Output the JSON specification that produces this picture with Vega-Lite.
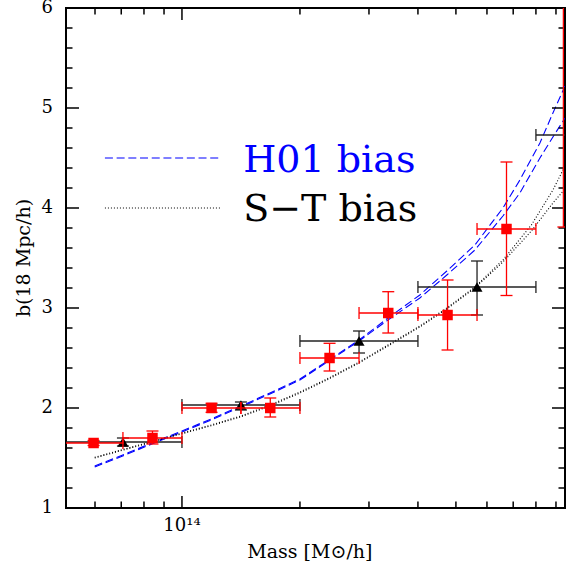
{
  "$schema": "https://vega.github.io/schema/vega-lite/v6.json",
  "width": 499,
  "height": 500,
  "autosize": {"type": "none"},
  "padding": {"left": 66, "top": 8, "right": 11, "bottom": 58},
  "background": "white",
  "config": {
    "view": {"stroke": "black", "strokeWidth": 2}
  },
  "datasets": {
    "curves": [
      {"m": 5.99e13, "b": 1.42, "s": "H01a", "k": "H01"},
      {"m": 7.06e13, "b": 1.53, "s": "H01a", "k": "H01"},
      {"m": 8.38e13, "b": 1.65, "s": "H01a", "k": "H01"},
      {"m": 1e14, "b": 1.77, "s": "H01a", "k": "H01"},
      {"m": 1.186e14, "b": 1.89, "s": "H01a", "k": "H01"},
      {"m": 1.414e14, "b": 2.02, "s": "H01a", "k": "H01"},
      {"m": 1.677e14, "b": 2.15, "s": "H01a", "k": "H01"},
      {"m": 2e14, "b": 2.29, "s": "H01a", "k": "H01"},
      {"m": 2.37e14, "b": 2.48, "s": "H01a", "k": "H01"},
      {"m": 2.83e14, "b": 2.68, "s": "H01a", "k": "H01"},
      {"m": 3.354e14, "b": 2.90, "s": "H01a", "k": "H01"},
      {"m": 4.045e14, "b": 3.13, "s": "H01a", "k": "H01"},
      {"m": 4.74e14, "b": 3.37, "s": "H01a", "k": "H01"},
      {"m": 5.59e14, "b": 3.63, "s": "H01a", "k": "H01"},
      {"m": 6.59e14, "b": 4.00, "s": "H01a", "k": "H01"},
      {"m": 7.28e14, "b": 4.28, "s": "H01a", "k": "H01"},
      {"m": 8.19e14, "b": 4.65, "s": "H01a", "k": "H01"},
      {"m": 8.84e14, "b": 4.95, "s": "H01a", "k": "H01"},
      {"m": 9.49e14, "b": 5.22, "s": "H01a", "k": "H01"},
      {"m": 5.99e13, "b": 1.41, "s": "H01b", "k": "H01"},
      {"m": 7.06e13, "b": 1.52, "s": "H01b", "k": "H01"},
      {"m": 8.38e13, "b": 1.64, "s": "H01b", "k": "H01"},
      {"m": 1e14, "b": 1.76, "s": "H01b", "k": "H01"},
      {"m": 1.186e14, "b": 1.88, "s": "H01b", "k": "H01"},
      {"m": 1.414e14, "b": 2.01, "s": "H01b", "k": "H01"},
      {"m": 1.677e14, "b": 2.14, "s": "H01b", "k": "H01"},
      {"m": 2e14, "b": 2.28, "s": "H01b", "k": "H01"},
      {"m": 2.37e14, "b": 2.47, "s": "H01b", "k": "H01"},
      {"m": 2.83e14, "b": 2.67, "s": "H01b", "k": "H01"},
      {"m": 3.354e14, "b": 2.88, "s": "H01b", "k": "H01"},
      {"m": 4.045e14, "b": 3.10, "s": "H01b", "k": "H01"},
      {"m": 4.74e14, "b": 3.33, "s": "H01b", "k": "H01"},
      {"m": 5.59e14, "b": 3.58, "s": "H01b", "k": "H01"},
      {"m": 6.59e14, "b": 3.92, "s": "H01b", "k": "H01"},
      {"m": 7.28e14, "b": 4.15, "s": "H01b", "k": "H01"},
      {"m": 8.19e14, "b": 4.50, "s": "H01b", "k": "H01"},
      {"m": 8.84e14, "b": 4.71, "s": "H01b", "k": "H01"},
      {"m": 9.49e14, "b": 4.90, "s": "H01b", "k": "H01"},
      {"m": 5.99e13, "b": 1.507, "s": "STa", "k": "ST"},
      {"m": 7.06e13, "b": 1.585, "s": "STa", "k": "ST"},
      {"m": 8.38e13, "b": 1.665, "s": "STa", "k": "ST"},
      {"m": 1e14, "b": 1.75, "s": "STa", "k": "ST"},
      {"m": 1.186e14, "b": 1.83, "s": "STa", "k": "ST"},
      {"m": 1.414e14, "b": 1.92, "s": "STa", "k": "ST"},
      {"m": 1.677e14, "b": 2.03, "s": "STa", "k": "ST"},
      {"m": 2e14, "b": 2.16, "s": "STa", "k": "ST"},
      {"m": 2.37e14, "b": 2.30, "s": "STa", "k": "ST"},
      {"m": 2.83e14, "b": 2.46, "s": "STa", "k": "ST"},
      {"m": 3.354e14, "b": 2.63, "s": "STa", "k": "ST"},
      {"m": 4.045e14, "b": 2.82, "s": "STa", "k": "ST"},
      {"m": 4.74e14, "b": 3.00, "s": "STa", "k": "ST"},
      {"m": 5.59e14, "b": 3.21, "s": "STa", "k": "ST"},
      {"m": 6.59e14, "b": 3.48, "s": "STa", "k": "ST"},
      {"m": 7.79e14, "b": 3.83, "s": "STa", "k": "ST"},
      {"m": 8.84e14, "b": 4.18, "s": "STa", "k": "ST"},
      {"m": 9.49e14, "b": 4.42, "s": "STa", "k": "ST"},
      {"m": 5.99e13, "b": 1.50, "s": "STb", "k": "ST"},
      {"m": 7.06e13, "b": 1.578, "s": "STb", "k": "ST"},
      {"m": 8.38e13, "b": 1.658, "s": "STb", "k": "ST"},
      {"m": 1e14, "b": 1.742, "s": "STb", "k": "ST"},
      {"m": 1.186e14, "b": 1.822, "s": "STb", "k": "ST"},
      {"m": 1.414e14, "b": 1.912, "s": "STb", "k": "ST"},
      {"m": 1.677e14, "b": 2.02, "s": "STb", "k": "ST"},
      {"m": 2e14, "b": 2.15, "s": "STb", "k": "ST"},
      {"m": 2.37e14, "b": 2.29, "s": "STb", "k": "ST"},
      {"m": 2.83e14, "b": 2.45, "s": "STb", "k": "ST"},
      {"m": 3.354e14, "b": 2.62, "s": "STb", "k": "ST"},
      {"m": 4.045e14, "b": 2.81, "s": "STb", "k": "ST"},
      {"m": 4.74e14, "b": 2.99, "s": "STb", "k": "ST"},
      {"m": 5.59e14, "b": 3.20, "s": "STb", "k": "ST"},
      {"m": 6.59e14, "b": 3.46, "s": "STb", "k": "ST"},
      {"m": 7.79e14, "b": 3.77, "s": "STb", "k": "ST"},
      {"m": 8.84e14, "b": 4.05, "s": "STb", "k": "ST"},
      {"m": 9.49e14, "b": 4.19, "s": "STb", "k": "ST"},
      {"m": 6.36e13, "b": 4.5, "s": "legH", "k": "H01"},
      {"m": 1.265e14, "b": 4.5, "s": "legH", "k": "H01"},
      {"m": 6.36e13, "b": 4.0, "s": "legS", "k": "ST"},
      {"m": 1.265e14, "b": 4.0, "s": "legS", "k": "ST"}
    ],
    "red": [
      {"m": 5.95e13, "b": 1.65, "mlo": 5e13, "mhi": 7.07e13, "blo": 1.625, "bhi": 1.675},
      {"m": 8.41e13, "b": 1.70, "mlo": 7.07e13, "mhi": 1e14, "blo": 1.64, "bhi": 1.77},
      {"m": 1.19e14, "b": 2.00, "mlo": 1e14, "mhi": 1.414e14, "blo": 1.957, "bhi": 2.047},
      {"m": 1.68e14, "b": 2.00, "mlo": 1.414e14, "mhi": 2e14, "blo": 1.91, "bhi": 2.10},
      {"m": 2.38e14, "b": 2.50, "mlo": 2e14, "mhi": 2.83e14, "blo": 2.37, "bhi": 2.647},
      {"m": 3.36e14, "b": 2.95, "mlo": 2.83e14, "mhi": 4e14, "blo": 2.75, "bhi": 3.163},
      {"m": 4.76e14, "b": 2.93, "mlo": 4e14, "mhi": 5.66e14, "blo": 2.58, "bhi": 3.28},
      {"m": 6.73e14, "b": 3.79, "mlo": 5.66e14, "mhi": 8e14, "blo": 3.125, "bhi": 4.46},
      {"m": 9.4e14, "b": 6.5, "mlo": 8e14, "mhi": 1.13e15, "blo": 3.81, "bhi": 9.5}
    ],
    "black": [
      {"m": 7.07e13, "b": 1.66, "mlo": 5e13, "mhi": 1e14, "blo": 1.62, "bhi": 1.70},
      {"m": 1.414e14, "b": 2.03, "mlo": 1e14, "mhi": 2e14, "blo": 1.98, "bhi": 2.06},
      {"m": 2.83e14, "b": 2.67, "mlo": 2e14, "mhi": 4e14, "blo": 2.55, "bhi": 2.77},
      {"m": 5.66e14, "b": 3.21, "mlo": 4e14, "mhi": 8e14, "blo": 2.93, "bhi": 3.47},
      {"m": 1.13e15, "b": 4.73, "mlo": 8e14, "mhi": 1.6e15, "blo": 4.45, "bhi": 5.0}
    ],
    "legtext": [
      {"m": 1.433e14, "b": 4.363, "t": "H01 bias", "k": "H01"},
      {"m": 1.433e14, "b": 3.873, "t": "S\u2212T bias", "k": "ST"}
    ],
    "xticks": [
      {"v": 6e13, "major": 0, "lab": ""}, {"v": 7e13, "major": 0, "lab": ""}, {"v": 8e13, "major": 0, "lab": ""}, {"v": 9e13, "major": 0, "lab": ""},
      {"v": 1e14, "major": 1, "lab": "10\u00b9\u2074"},
      {"v": 2e14, "major": 0, "lab": ""}, {"v": 3e14, "major": 0, "lab": ""}, {"v": 4e14, "major": 0, "lab": ""}, {"v": 5e14, "major": 0, "lab": ""},
      {"v": 6e14, "major": 0, "lab": ""}, {"v": 7e14, "major": 0, "lab": ""}, {"v": 8e14, "major": 0, "lab": ""}, {"v": 9e14, "major": 0, "lab": ""}
    ],
    "yticks": [
      {"v": 1, "major": 1, "lab": "1"}, {"v": 1.2, "major": 0, "lab": ""}, {"v": 1.4, "major": 0, "lab": ""}, {"v": 1.6, "major": 0, "lab": ""}, {"v": 1.8, "major": 0, "lab": ""},
      {"v": 2, "major": 1, "lab": "2"}, {"v": 2.2, "major": 0, "lab": ""}, {"v": 2.4, "major": 0, "lab": ""}, {"v": 2.6, "major": 0, "lab": ""}, {"v": 2.8, "major": 0, "lab": ""},
      {"v": 3, "major": 1, "lab": "3"}, {"v": 3.2, "major": 0, "lab": ""}, {"v": 3.4, "major": 0, "lab": ""}, {"v": 3.6, "major": 0, "lab": ""}, {"v": 3.8, "major": 0, "lab": ""},
      {"v": 4, "major": 1, "lab": "4"}, {"v": 4.2, "major": 0, "lab": ""}, {"v": 4.4, "major": 0, "lab": ""}, {"v": 4.6, "major": 0, "lab": ""}, {"v": 4.8, "major": 0, "lab": ""},
      {"v": 5, "major": 1, "lab": "5"}, {"v": 5.2, "major": 0, "lab": ""}, {"v": 5.4, "major": 0, "lab": ""}, {"v": 5.6, "major": 0, "lab": ""}, {"v": 5.8, "major": 0, "lab": ""},
      {"v": 6, "major": 1, "lab": "6"}
    ],
    "titles": [
      {"m": 2.12e14, "b": 0.56, "t": "Mass  [M\u2299/h]", "dir": "x"},
      {"m": 3.955e13, "b": 3.5, "t": "b(18  Mpc/h)", "dir": "y"}
    ]
  },
  "layer": [
    {
      "data": {"name": "curves"},
      "mark": {"type": "line", "clip": true, "strokeWidth": 1.1},
      "encoding": {
        "x": {"field": "m", "type": "quantitative", "scale": {"type": "log", "domain": [5.06e13, 9.49e14], "nice": false}, "axis": null},
        "y": {"field": "b", "type": "quantitative", "scale": {"domain": [1, 6], "nice": false, "zero": false}, "axis": null},
        "detail": {"field": "s"},
        "color": {"field": "k", "type": "nominal", "scale": {"domain": ["H01", "ST"], "range": ["#0000ff", "#000000"]}, "legend": null},
        "strokeDash": {"field": "k", "type": "nominal", "scale": {"domain": ["H01", "ST"], "range": [[8, 3.7], [1, 2]]}, "legend": null}
      }
    },
    {
      "data": {"name": "xticks"},
      "transform": [{"filter": "datum.major == 1"}],
      "layer": [
        {"mark": {"type": "tick", "clip": true, "orient": "vertical", "size": 24, "thickness": 1.5, "color": "#000000", "opacity": 1},
         "encoding": {"x": {"field": "v", "type": "quantitative", "scale": {"type": "log", "domain": [5.06e13, 9.49e14], "nice": false}, "axis": null},
                      "y": {"datum": 1, "type": "quantitative", "scale": {"domain": [1, 6], "nice": false, "zero": false}, "axis": null}}},
        {"mark": {"type": "tick", "clip": true, "orient": "vertical", "size": 24, "thickness": 1.5, "color": "#000000", "opacity": 1},
         "encoding": {"x": {"field": "v", "type": "quantitative", "scale": {"type": "log", "domain": [5.06e13, 9.49e14], "nice": false}, "axis": null},
                      "y": {"datum": 6, "type": "quantitative", "scale": {"domain": [1, 6], "nice": false, "zero": false}, "axis": null}}},
        {"mark": {"type": "text", "align": "center", "baseline": "top", "dy": 9, "font": "DejaVu Serif", "fontSize": 18, "color": "#000000"},
         "encoding": {"x": {"field": "v", "type": "quantitative", "scale": {"type": "log", "domain": [5.06e13, 9.49e14], "nice": false}, "axis": null},
                      "y": {"datum": 1, "type": "quantitative", "scale": {"domain": [1, 6], "nice": false, "zero": false}, "axis": null},
                      "text": {"field": "lab"}}}
      ]
    },
    {
      "data": {"name": "xticks"},
      "transform": [{"filter": "datum.major == 0"}],
      "layer": [
        {"mark": {"type": "tick", "clip": true, "orient": "vertical", "size": 13, "thickness": 1.5, "color": "#000000", "opacity": 1},
         "encoding": {"x": {"field": "v", "type": "quantitative", "scale": {"type": "log", "domain": [5.06e13, 9.49e14], "nice": false}, "axis": null},
                      "y": {"datum": 1, "type": "quantitative", "scale": {"domain": [1, 6], "nice": false, "zero": false}, "axis": null}}},
        {"mark": {"type": "tick", "clip": true, "orient": "vertical", "size": 13, "thickness": 1.5, "color": "#000000", "opacity": 1},
         "encoding": {"x": {"field": "v", "type": "quantitative", "scale": {"type": "log", "domain": [5.06e13, 9.49e14], "nice": false}, "axis": null},
                      "y": {"datum": 6, "type": "quantitative", "scale": {"domain": [1, 6], "nice": false, "zero": false}, "axis": null}}}
      ]
    },
    {
      "data": {"name": "yticks"},
      "transform": [{"filter": "datum.major == 1"}],
      "layer": [
        {"mark": {"type": "tick", "clip": true, "orient": "horizontal", "size": 26, "thickness": 1.5, "color": "#000000", "opacity": 1},
         "encoding": {"x": {"datum": 5.06e13, "type": "quantitative", "scale": {"type": "log", "domain": [5.06e13, 9.49e14], "nice": false}, "axis": null},
                      "y": {"field": "v", "type": "quantitative", "scale": {"domain": [1, 6], "nice": false, "zero": false}, "axis": null}}},
        {"mark": {"type": "tick", "clip": true, "orient": "horizontal", "size": 26, "thickness": 1.5, "color": "#000000", "opacity": 1},
         "encoding": {"x": {"datum": 9.49e14, "type": "quantitative", "scale": {"type": "log", "domain": [5.06e13, 9.49e14], "nice": false}, "axis": null},
                      "y": {"field": "v", "type": "quantitative", "scale": {"domain": [1, 6], "nice": false, "zero": false}, "axis": null}}},
        {"mark": {"type": "text", "align": "right", "baseline": "middle", "dx": -13, "font": "DejaVu Serif", "fontSize": 18, "color": "#000000"},
         "encoding": {"x": {"datum": 5.06e13, "type": "quantitative", "scale": {"type": "log", "domain": [5.06e13, 9.49e14], "nice": false}, "axis": null},
                      "y": {"field": "v", "type": "quantitative", "scale": {"domain": [1, 6], "nice": false, "zero": false}, "axis": null},
                      "text": {"field": "lab"}}}
      ]
    },
    {
      "data": {"name": "yticks"},
      "transform": [{"filter": "datum.major == 0"}],
      "layer": [
        {"mark": {"type": "tick", "clip": true, "orient": "horizontal", "size": 13, "thickness": 1.5, "color": "#000000", "opacity": 1},
         "encoding": {"x": {"datum": 5.06e13, "type": "quantitative", "scale": {"type": "log", "domain": [5.06e13, 9.49e14], "nice": false}, "axis": null},
                      "y": {"field": "v", "type": "quantitative", "scale": {"domain": [1, 6], "nice": false, "zero": false}, "axis": null}}},
        {"mark": {"type": "tick", "clip": true, "orient": "horizontal", "size": 13, "thickness": 1.5, "color": "#000000", "opacity": 1},
         "encoding": {"x": {"datum": 9.49e14, "type": "quantitative", "scale": {"type": "log", "domain": [5.06e13, 9.49e14], "nice": false}, "axis": null},
                      "y": {"field": "v", "type": "quantitative", "scale": {"domain": [1, 6], "nice": false, "zero": false}, "axis": null}}}
      ]
    },
    {
      "data": {"name": "titles"},
      "layer": [
        {"transform": [{"filter": "datum.dir == 'x'"}],
         "mark": {"type": "text", "align": "center", "baseline": "middle", "font": "DejaVu Serif", "fontSize": 19, "color": "#000000"},
         "encoding": {"x": {"field": "m", "type": "quantitative", "scale": {"type": "log", "domain": [5.06e13, 9.49e14], "nice": false}, "axis": null},
                      "y": {"field": "b", "type": "quantitative", "scale": {"domain": [1, 6], "nice": false, "zero": false}, "axis": null},
                      "text": {"field": "t"}}},
        {"transform": [{"filter": "datum.dir == 'y'"}],
         "mark": {"type": "text", "align": "center", "baseline": "middle", "angle": 270, "font": "DejaVu Serif", "fontSize": 19, "color": "#000000"},
         "encoding": {"x": {"field": "m", "type": "quantitative", "scale": {"type": "log", "domain": [5.06e13, 9.49e14], "nice": false}, "axis": null},
                      "y": {"field": "b", "type": "quantitative", "scale": {"domain": [1, 6], "nice": false, "zero": false}, "axis": null},
                      "text": {"field": "t"}}}
      ]
    },
    {
      "data": {"name": "black"},
      "mark": {"type": "rule", "clip": true, "color": "#222222", "strokeWidth": 1.3},
      "encoding": {
        "x": {"field": "mlo", "type": "quantitative", "scale": {"type": "log", "domain": [5.06e13, 9.49e14], "nice": false}, "axis": null},
        "x2": {"field": "mhi"},
        "y": {"field": "b", "type": "quantitative", "scale": {"domain": [1, 6], "nice": false, "zero": false}, "axis": null}
      }
    },
    {
      "data": {"name": "black"},
      "transform": [{"fold": ["mlo", "mhi"], "as": ["which", "mv"]}],
      "mark": {"type": "tick", "clip": true, "orient": "vertical", "size": 12, "thickness": 1.3, "color": "#222222", "opacity": 1},
      "encoding": {
        "x": {"field": "mv", "type": "quantitative", "scale": {"type": "log", "domain": [5.06e13, 9.49e14], "nice": false}, "axis": null},
        "y": {"field": "b", "type": "quantitative", "scale": {"domain": [1, 6], "nice": false, "zero": false}, "axis": null}
      }
    },
    {
      "data": {"name": "black"},
      "mark": {"type": "rule", "clip": true, "color": "#222222", "strokeWidth": 1.3},
      "encoding": {
        "x": {"field": "m", "type": "quantitative", "scale": {"type": "log", "domain": [5.06e13, 9.49e14], "nice": false}, "axis": null},
        "y": {"field": "blo", "type": "quantitative", "scale": {"domain": [1, 6], "nice": false, "zero": false}, "axis": null},
        "y2": {"field": "bhi"}
      }
    },
    {
      "data": {"name": "black"},
      "transform": [{"fold": ["blo", "bhi"], "as": ["which", "bv"]}],
      "mark": {"type": "tick", "clip": true, "orient": "horizontal", "size": 12, "thickness": 1.3, "color": "#222222", "opacity": 1},
      "encoding": {
        "x": {"field": "m", "type": "quantitative", "scale": {"type": "log", "domain": [5.06e13, 9.49e14], "nice": false}, "axis": null},
        "y": {"field": "bv", "type": "quantitative", "scale": {"domain": [1, 6], "nice": false, "zero": false}, "axis": null}
      }
    },
    {
      "data": {"name": "black"},
      "mark": {"type": "point", "clip": true, "shape": "triangle-up", "filled": true, "size": 121, "color": "#000000", "opacity": 1},
      "encoding": {
        "x": {"field": "m", "type": "quantitative", "scale": {"type": "log", "domain": [5.06e13, 9.49e14], "nice": false}, "axis": null},
        "y": {"field": "b", "type": "quantitative", "scale": {"domain": [1, 6], "nice": false, "zero": false}, "axis": null}
      }
    },
    {
      "data": {"name": "red"},
      "mark": {"type": "rule", "clip": true, "color": "#ff0000", "strokeWidth": 1.3},
      "encoding": {
        "x": {"field": "mlo", "type": "quantitative", "scale": {"type": "log", "domain": [5.06e13, 9.49e14], "nice": false}, "axis": null},
        "x2": {"field": "mhi"},
        "y": {"field": "b", "type": "quantitative", "scale": {"domain": [1, 6], "nice": false, "zero": false}, "axis": null}
      }
    },
    {
      "data": {"name": "red"},
      "transform": [{"fold": ["mlo", "mhi"], "as": ["which", "mv"]}],
      "mark": {"type": "tick", "clip": true, "orient": "vertical", "size": 12, "thickness": 1.3, "color": "#ff0000", "opacity": 1},
      "encoding": {
        "x": {"field": "mv", "type": "quantitative", "scale": {"type": "log", "domain": [5.06e13, 9.49e14], "nice": false}, "axis": null},
        "y": {"field": "b", "type": "quantitative", "scale": {"domain": [1, 6], "nice": false, "zero": false}, "axis": null}
      }
    },
    {
      "data": {"name": "red"},
      "mark": {"type": "rule", "clip": true, "color": "#ff0000", "strokeWidth": 1.3},
      "encoding": {
        "x": {"field": "m", "type": "quantitative", "scale": {"type": "log", "domain": [5.06e13, 9.49e14], "nice": false}, "axis": null},
        "y": {"field": "blo", "type": "quantitative", "scale": {"domain": [1, 6], "nice": false, "zero": false}, "axis": null},
        "y2": {"field": "bhi"}
      }
    },
    {
      "data": {"name": "red"},
      "transform": [{"fold": ["blo", "bhi"], "as": ["which", "bv"]}],
      "mark": {"type": "tick", "clip": true, "orient": "horizontal", "size": 12, "thickness": 1.3, "color": "#ff0000", "opacity": 1},
      "encoding": {
        "x": {"field": "m", "type": "quantitative", "scale": {"type": "log", "domain": [5.06e13, 9.49e14], "nice": false}, "axis": null},
        "y": {"field": "bv", "type": "quantitative", "scale": {"domain": [1, 6], "nice": false, "zero": false}, "axis": null}
      }
    },
    {
      "data": {"name": "red"},
      "mark": {"type": "point", "clip": true, "shape": "square", "filled": true, "size": 110, "color": "#ff0000", "opacity": 1},
      "encoding": {
        "x": {"field": "m", "type": "quantitative", "scale": {"type": "log", "domain": [5.06e13, 9.49e14], "nice": false}, "axis": null},
        "y": {"field": "b", "type": "quantitative", "scale": {"domain": [1, 6], "nice": false, "zero": false}, "axis": null}
      }
    },
    {
      "data": {"name": "legtext"},
      "mark": {"type": "text", "align": "left", "baseline": "alphabetic", "font": "DejaVu Serif", "fontSize": 38},
      "encoding": {
        "x": {"field": "m", "type": "quantitative", "scale": {"type": "log", "domain": [5.06e13, 9.49e14], "nice": false}, "axis": null},
        "y": {"field": "b", "type": "quantitative", "scale": {"domain": [1, 6], "nice": false, "zero": false}, "axis": null},
        "text": {"field": "t"},
        "color": {"field": "k", "type": "nominal", "scale": {"domain": ["H01", "ST"], "range": ["#0000ff", "#000000"]}, "legend": null}
      }
    }
  ]
}
